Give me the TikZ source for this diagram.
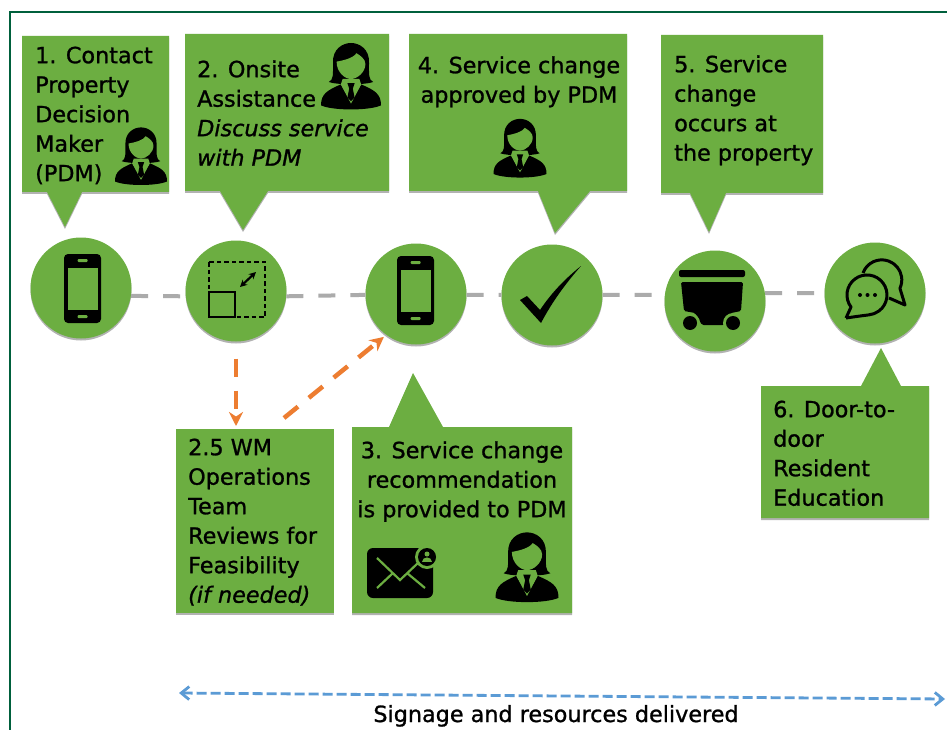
\documentclass[tikz,border=0pt]{standalone}
\usepackage{fontspec}
\setmainfont{DejaVu Sans}[FakeBold=1.1]
\usetikzlibrary{arrows.meta,shadows}
\definecolor{wmgreen}{HTML}{6CAE41}
\definecolor{frame}{HTML}{00603C}
\definecolor{gline}{HTML}{ABABAB}
\definecolor{oline}{HTML}{ED7D31}
\definecolor{bline}{HTML}{5B9BD5}
\newcommand{\st}{\rule{0pt}{20pt}}
\tikzset{
  x=1pt,y=-1pt,
  softshadow/.style={drop shadow={shadow xshift=0pt,shadow yshift=-2pt,opacity=.3,fill=black}},
  callout/.style={fill=wmgreen,softshadow},
  circ/.style={circle,fill=wmgreen,minimum size=101pt,inner sep=0pt,softshadow},
  txt/.style={anchor=north west,inner sep=0pt,align=left,font=\fontsize{22.3}{29.5}\selectfont},
  txc/.style={anchor=north,inner sep=0pt,align=center,font=\fontsize{22.3}{29.5}\selectfont},
  grayline/.style={draw=gline,line width=4pt,dash pattern=on 17pt off 15pt},
  orangeline/.style={draw=oline,line width=4.5pt,dash pattern=on 18pt off 14pt,-{Stealth[length=14pt,width=14pt]}},
  blueline/.style={draw=bline,line width=2.8pt,dash pattern=on 10pt off 4pt,{Straight Barb[length=8pt,width=13pt]}-{Straight Barb[length=8pt,width=13pt]}},
  person/.pic={
    \fill[black] (-37,10) .. controls (-29,6) and (-30,-2) .. (-30,-22) .. controls (-31,-45) and (-14,-55) .. (0,-55)
      .. controls (14,-55) and (31,-45) .. (30,-22) .. controls (30,-2) and (29,6) .. (37,10)
      .. controls (24,15) and (-24,15) .. (-37,10) -- cycle;
    \fill[wmgreen] (-24,-24) .. controls (-12,-26) and (4,-30) .. (9,-38) .. controls (16,-34) and (24,-28) .. (24,-20)
      .. controls (24,-6) and (10,5) .. (0,5) .. controls (-10,5) and (-24,-6) .. (-24,-24) -- cycle;
    \fill[black] (-50,49) .. controls (-50,30) and (-40,24) .. (-17,14) -- (0,44) -- (17,14)
      .. controls (40,24) and (50,30) .. (50,49) .. controls (30,58) and (-30,58) .. (-50,49) -- cycle;
    \fill[wmgreen] (-14,5) -- (14,5) -- (17,14) -- (0,46) -- (-17,14) -- cycle;
    \fill[black] (-6,12) -- (6,12) -- (3,21) -- (6,36) -- (0,42) -- (-6,36) -- (-3,21) -- cycle;
  },
  phone/.pic={
    \fill[black,rounded corners=4pt] (-18.5,-34.5) rectangle (18.5,34.5);
    \fill[wmgreen] (-15,-21) rectangle (15,21);
    \fill[wmgreen,rounded corners=1pt] (-5,-29.5) rectangle (5,-26.5);
    \fill[wmgreen,rounded corners=1pt] (-5,26.5) rectangle (5,29.5);
  }
}
\begin{document}
\begin{tikzpicture}
\useasboundingbox (0,0) rectangle (947,730);
\fill[white] (0,0) rectangle (947,730);
\draw[frame,line width=2.4pt] (10,730) -- (10,12) -- (947,12);

% callouts
\path[callout] (22,36) -- (169,36) -- (169,192) -- (82,192) -- (65,227) -- (47,192) -- (22,192) -- cycle;
\path[callout] (185,34) -- (389,34) -- (389,191) -- (268,191) -- (243,230) -- (220,191) -- (185,191) -- cycle;
\path[callout] (409,34) -- (627,34) -- (627,191) -- (590,191) -- (555,233) -- (538,191) -- (409,191) -- cycle;
\path[callout] (661,35) -- (823,35) -- (823,193) -- (726,193) -- (709,232) -- (690,193) -- (661,193) -- cycle;
\path[callout] (761,386) -- (861,386) -- (881,348) -- (901,386) -- (929,386) -- (929,518) -- (761,518) -- cycle;
\path[callout] (176,429) -- (334,429) -- (334,613) -- (176,613) -- cycle;
\path[callout] (352,427) -- (389,427) -- (413,373) -- (443,427) -- (572,427) -- (572,613) -- (352,613) -- cycle;

% circles
\node[circ] (c1) at (81,288) {};
\node[circ] (c2) at (236,291) {};
\node[circ] (c3) at (416,294) {};
\node[circ] (c4) at (552,295) {};
\node[circ] (c5) at (715,301) {};
\node[circ] (c6) at (875,293) {};

% gray connectors
\draw[grayline] (c1.-9) -- (c2.186);
\draw[grayline] (c2.-6) -- (c3.181);
\draw[grayline] (c3.-1) -- (c4.180);
\draw[grayline] (c4.0) -- (c5.173);
\draw[grayline] (c5.9) -- (c6.180);

% texts
\node[txt] (t1) at (35,43) {\st 1. Contact\\Property\\Decision\\Maker\\(PDM)};
\node[txt] (t2) at (197,57) {\st 2. Onsite\\Assistance\\\textit{Discuss service}\\\textit{with PDM}};
\node[txc] (t4) at (519,53) {\st 4. Service change\\approved by PDM};
\node[txt] (t5) at (674,52) {\st 5. Service\\change\\occurs at\\the property};
\node[txt] (t6) at (773,397) {\st 6. Door-to-\\door\\Resident\\Education};
\node[txt] (t25) at (188,435) {\st 2.5 WM\\Operations\\Team\\Reviews for\\Feasibility\\\textit{(if needed)}};
\node[txc] (t3) at (462,438) {\st 3. Service change\\recommendation\\is provided to PDM};
\node[anchor=base,inner sep=0pt,font=\fontsize{22.3}{25}\selectfont] (sig) at (556,722) {Signage and resources delivered};

% orange connectors
\coordinate (os) at (284,418);
\draw[orangeline,shorten <=17pt,shorten >=9pt] (c2.south) -- (c2.south |- t25.north);
\draw[orangeline,shorten >=3pt] (os) -- (c3.234);

% blue connector
\coordinate (bl) at (179,693);
\coordinate (br) at (945,699);
\draw[blueline] (bl) -- (br);

% person icons
\pic[scale=.52] at (141,156) {person};
\pic[scale=.60] at (351,76) {person};
\pic[scale=.53] at (520,148) {person};
\pic[scale=.63] at (527,567) {person};

% phones
\pic at (82.5,288.5) {phone};
\pic at (415.5,290.5) {phone};

% resize icon
\draw[black,line width=2.6pt,dash pattern=on 4.5pt off 3pt] (209,262) rectangle (265,317);
\draw[black,line width=2.4pt] (209,292) rectangle (235,317);
\draw[black,line width=2.2pt,{Stealth[length=7pt,width=7pt]}-{Stealth[length=7pt,width=7pt]}] (240,287) -- (256,272);

% check
\fill[black] (520,300) -- (527,296) -- (540,310) .. controls (552,292) and (566,278) .. (581,266) .. controls (566,283) and (552,302) .. (541,323) -- cycle;

% cart
\fill[black,rounded corners=2pt] (679,270) rectangle (745,277);
\fill[black,rounded corners=1.5pt] (681,282) -- (743,282) -- (741,311) -- (731,313) -- (724,325) -- (702,325) -- (695,313) -- (684,311) -- cycle;
\fill[wmgreen] (690,323) circle (10);
\fill[wmgreen] (733,323) circle (10);
\fill[black] (690,323) circle (7);
\fill[black] (733,323) circle (7);

% chat
\draw[black,line width=3pt,line join=round] (846,318) -- (851,307) arc[start angle=143,end angle=445,radius=20] .. controls (860,316) .. (846,318);
\draw[black,line width=3pt,line join=round] (863,273) arc[start angle=200,end angle=385,radius=20] -- (905,305) -- (889,298);
\fill[black] (860,295) circle (2) (867.5,295) circle (2) (875,295) circle (2);

% envelope
\fill[black,rounded corners=6pt] (367,548) rectangle (433,598);
\draw[wmgreen,line width=2.2pt] (377,558) -- (400,580) -- (418,563);
\draw[wmgreen,line width=2.2pt] (377,588) -- (393,573);
\draw[wmgreen,line width=2.2pt] (425,588) -- (407,573);
\fill[wmgreen] (427,557) circle (12);
\fill[black] (427,557) circle (9);
\fill[wmgreen] (427,554) circle (2.5);
\fill[wmgreen] (422,562) .. controls (422,556) and (432,556) .. (432,562) -- cycle;
\end{tikzpicture}
\end{document}
